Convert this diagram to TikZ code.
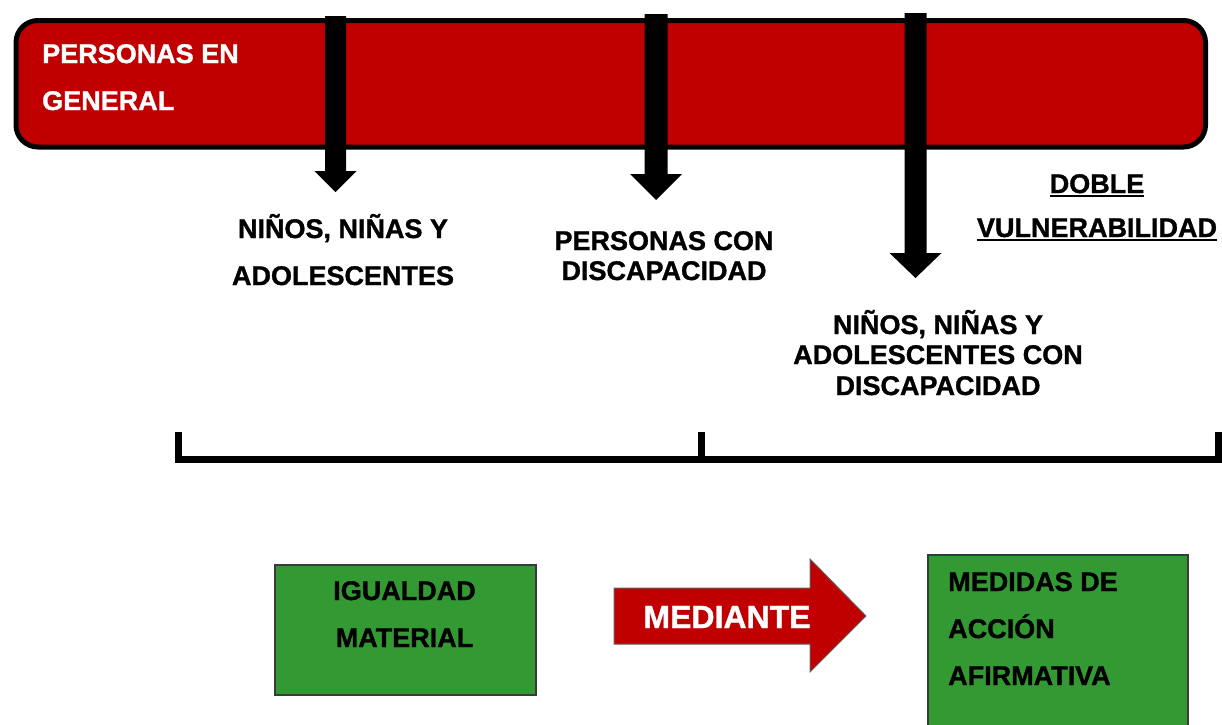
\documentclass[tikz,border=0pt]{standalone}
\usepackage{fontspec}
\setmainfont{Liberation Sans}[BoldFeatures={FakeBold=1.2}]
\definecolor{rojo}{HTML}{C00000}
\definecolor{verde}{HTML}{339933}
\definecolor{borde}{HTML}{3A3A3A}
\newlength\ulw
\newcommand\myul[1]{\settowidth\ulw{#1}\rlap{\rule[-4pt]{\ulw}{2.2pt}}#1}
\newcommand\varrow[6]{% cx, top, headtop, tip, shafthalf, headhalf
  \fill (#1-#5,#2) -- (#1+#5,#2) -- (#1+#5,#3) -- (#1+#6,#3) -- (#1,#4)
    -- (#1-#6,#3) -- (#1-#5,#3) -- cycle;}
\begin{document}
\begin{tikzpicture}[x=1pt,y=-1pt,
  txt/.style={inner sep=0pt, anchor=base, font=\bfseries\fontsize{27}{27}\selectfont},
  wtxt/.style={txt, text=white},
  ltxt/.style={txt, anchor=base west},
  greenbox/.style={draw=borde, line width=2pt, fill=verde, inner sep=0pt, anchor=north west},
  bracket/.style={line width=7pt, line cap=butt, line join=miter}]
\useasboundingbox (0,0) rectangle (1222,724);

% top red bar
\node (gen) [fill=rojo, draw=black, line width=5pt, rounded corners=22pt,
  minimum width=1189.5pt, minimum height=126.5pt, inner sep=0pt, anchor=north west]
  at (13.5,18) {};
\node (gen1) [wtxt, anchor=base west] at (42,63) {PERSONAS EN};
\node (gen2) [wtxt, anchor=base west] at (42,110) {GENERAL};

% down arrows
\varrow{335.5}{16}{171}{192}{10.5}{21}
\varrow{656}{14}{174}{200}{11.5}{26}
\varrow{915.5}{13}{253}{278}{11}{26}

% labels
\node (n1a) [txt] at (343,238) {NIÑOS, NIÑAS Y};
\node (n1b) [txt] at (343,285) {ADOLESCENTES};
\node (p1a) [txt] at (664,250) {PERSONAS CON};
\node (p1b) [txt] at (664,280) {DISCAPACIDAD};
\node (d1) [txt] at (1097,193) {\myul{DOBLE}};
\node (d2) [txt] at (1097,237) {\myul{VULNERABILIDAD}};
\node (n2a) [txt] at (938,334) {NIÑOS, NIÑAS Y};
\node (n2b) [txt] at (938,364) {ADOLESCENTES CON};
\node (n2c) [txt] at (938,395) {DISCAPACIDAD};

% bracket
\draw[bracket] (178,432) -- (178,459) -- (1222,459);
\draw[bracket] (701,432) -- (701,462.5);
\draw[bracket] (1218.5,432) -- (1218.5,462.5);

% green boxes
\node (ig) [greenbox, minimum width=261pt, minimum height=130pt] at (274,564) {};
\node (ig1) [txt] at (404.5,600) {IGUALDAD};
\node (ig2) [txt] at (404.5,647) {MATERIAL};

\node (md) [greenbox, minimum width=260pt, minimum height=190pt] at (927,554) {};
\node (md1) [ltxt] at (948,591) {MEDIDAS DE};
\node (md2) [ltxt] at (948,638) {ACCIÓN};
\node (md3) [ltxt] at (948,685) {AFIRMATIVA};

% MEDIANTE arrow
\draw[fill=rojo, draw=borde!80, line width=1pt]
  (614,588) -- (810,588) -- (810,559) -- (866,616) -- (810,672) -- (810,644) -- (614,644) -- cycle;
\node (med) [wtxt, font=\bfseries\fontsize{32}{32}\selectfont] at (727,628) {MEDIANTE};
\end{tikzpicture}
\end{document}
